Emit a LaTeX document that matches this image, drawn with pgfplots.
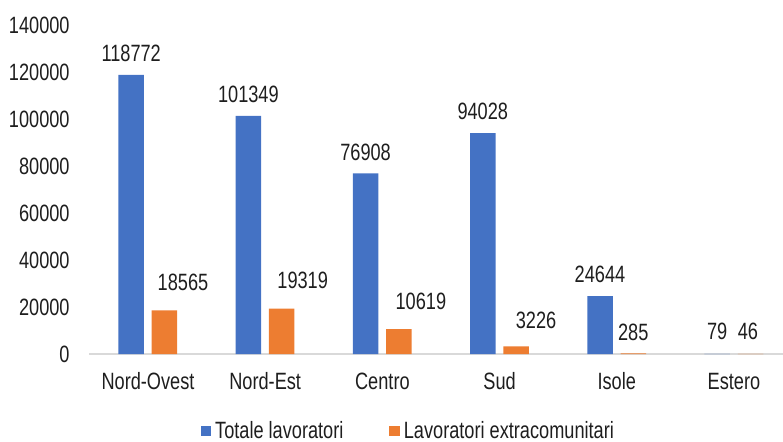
\documentclass[border=0pt]{standalone}
\usepackage{pgfplots}
\usepackage{pgfplotstable}
\usepackage{fontspec}
\setmainfont{Liberation Sans}[FakeStretch=0.77]
\pgfplotsset{compat=1.18}
\definecolor{cblue}{HTML}{4472C4}
\definecolor{corange}{HTML}{ED7D31}
\definecolor{cbase}{HTML}{D9D9D9}
\definecolor{ctext}{HTML}{1E1E1E}
\newcommand{\lf}{\fontsize{11.8}{14}\selectfont}
\pgfplotstableread{
x y dx dy lab
0 118772 0 6.3 118772
1 101349 0 6.6 101349
2 76908 0 6.3 76908
3 94028 0 6.3 94028
4 24644 0 6.3 24644
5 79 0 6.8 79
}\totale
\pgfplotstableread{
x y dx dy lab
0 18565 9.25 9.8 18565
1 19319 10.5 9.6 19319
2 10619 11 9.3 10619
3 3226 10 8.8 3226
4 285 0 6.3 285
5 46 -1.25 6.8 46
}\extra
\begin{document}
\begin{tikzpicture}
\useasboundingbox (-44.7pt,-43.5pt) rectangle (346.8pt,177pt);
\begin{axis}[
  at={(0,0)}, anchor=south west,
  scale only axis, width=351.6pt, height=164.5pt,
  xmin=-0.5, xmax=5.5, ymin=0, ymax=140000,
  clip=false,
  scaled y ticks=false,
  axis lines*=left,
  y axis line style={draw=none},
  x axis line style={draw=cbase, line width=0.8pt},
  xtick={0,1,2,3,4,5},
  xticklabels={Nord-Ovest,Nord-Est,Centro,Sud,Isole,Estero},
  ytick={0,20000,40000,60000,80000,100000,120000,140000},
  yticklabels={0,20000,40000,60000,80000,100000,120000,140000},
  major tick length=0pt,
  tick style={draw=none},
  xticklabel style={font=\lf, text=ctext, inner sep=0pt, anchor=base, yshift=-17.5pt},
  yticklabel style={font=\lf, text=ctext, inner sep=0pt, anchor=east, xshift=-9.7pt},
  ybar, bar width=12.75pt,
  nodes near coords={\pgfplotspointmeta},
  point meta=explicit symbolic,
  visualization depends on={\thisrow{dx} \as \dx},
  visualization depends on={\thisrow{dy} \as \dy},
  every node near coord/.append style={font=\lf, text=ctext, inner sep=0pt, anchor=south, xshift=\dx pt, yshift=\dy pt},
  legend image code/.code={\fill[#1,draw=none] (0pt,-2.6pt) rectangle (5.2pt,2.6pt);},
  legend style={draw=none, fill=none, at={(0.455,-0.234)}, anchor=center,
    legend columns=2, font=\lf, text=ctext, inner sep=0pt,
    /tikz/every even column/.append style={column sep=21pt}},
]
\addplot[fill=cblue, draw=none, bar shift=-8.4pt] table[x=x, y=y, meta=lab] {\totale};
\addlegendentry{Totale lavoratori}
\addplot[fill=corange, draw=none, bar shift=8.25pt] table[x=x, y=y, meta=lab] {\extra};
\addlegendentry{Lavoratori extracomunitari}
\end{axis}
\end{tikzpicture}
\end{document}
